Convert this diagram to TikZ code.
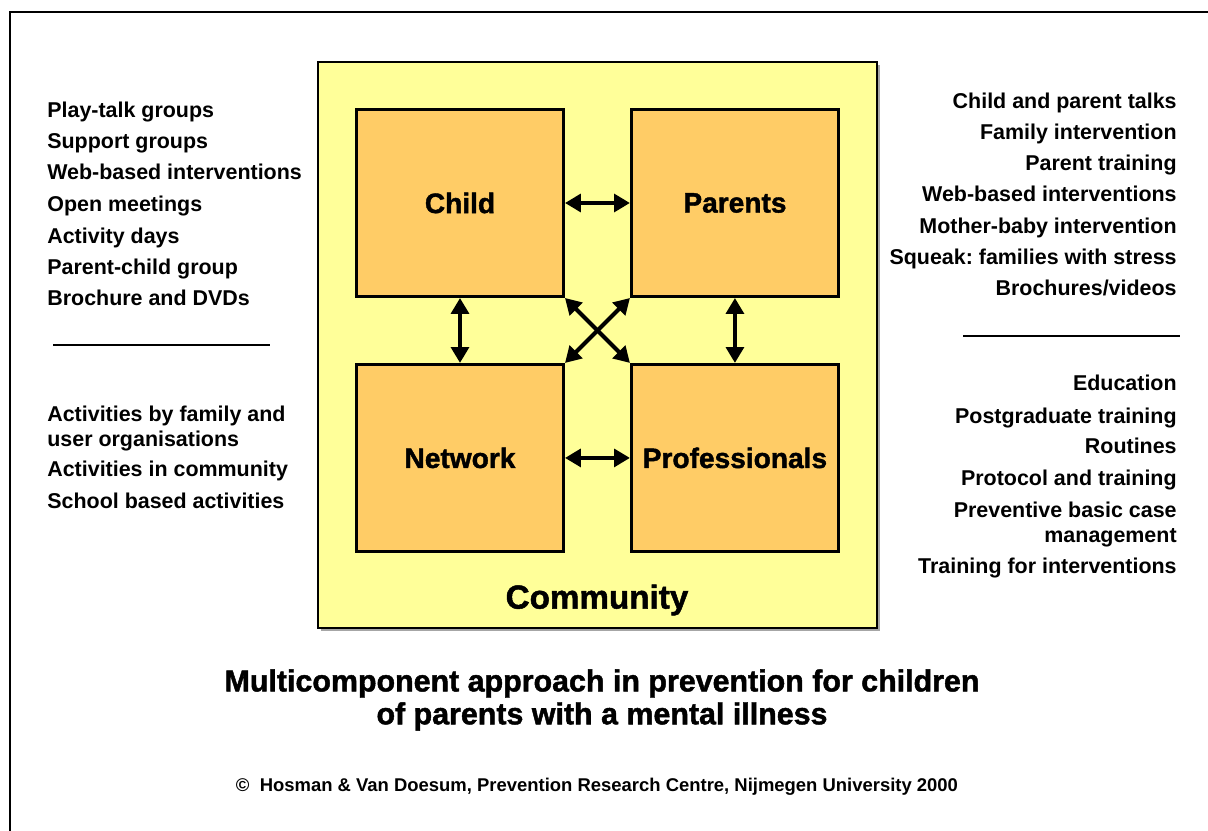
\documentclass[tikz,border=0pt]{standalone}
\usepackage{fontspec}
\setmainfont{Liberation Sans}
\newfontfamily\heavyfont{Liberation Sans}[BoldFeatures={FakeBold=1.5}]
\usepackage{tikz}
\usetikzlibrary{arrows.meta,positioning}
\definecolor{commyellow}{HTML}{FFFF99}
\definecolor{boxorange}{HTML}{FFCC66}
\frenchspacing

\tikzset{
  group/.style={draw=black, fill=boxorange, line width=1.7pt, minimum width=4.14cm,
    minimum height=3.74cm, inner sep=0pt, font=\heavyfont\bfseries\fontsize{16}{19}\selectfont},
  link/.style={line width=2.3pt, {Triangle[length=9pt,width=10pt]}-{Triangle[length=9pt,width=10pt]}},
  item/.style={font=\bfseries\fontsize{12.2}{14.2}\selectfont, inner sep=0pt},
  leftitem/.style={item, anchor=base west, align=left},
  rightitem/.style={item, anchor=base east, align=right},
}

\begin{document}
\begin{tikzpicture}[x=0.02cm, y=-0.02cm]
\useasboundingbox (0,0) rectangle (1208,831);

% frame
\draw[line width=1.7pt] (10,831) -- (10,12) -- (1208,12);

% community
\fill[gray!70] (321,65) rectangle (880,631);
\filldraw[fill=commyellow, draw=black, line width=1.1pt] (318,62) rectangle (877,628);
\node[font=\heavyfont\bfseries\fontsize{18.9}{22}\selectfont] (community) at (597,600) {Community};

% the four groups
\node[group] (child) at (460,203) {Child};
\node[group, right=1.3cm of child] (parents) {Parents};
\node[group, below=1.3cm of child] (network) {Network};
\node[group, below=1.3cm of parents] (professionals) {Professionals};

\draw[link] (child) -- (parents);
\draw[link] (child) -- (network);
\draw[link] (parents) -- (professionals);
\draw[link] (network) -- (professionals);
\draw[link] (child.south east) -- (professionals.north west);
\draw[link] (parents.south west) -- (network.north east);

% left side
\node[leftitem] (playtalk) at (47,118) {Play-talk groups};
\node[leftitem] (support) at (47,149) {Support groups};
\node[leftitem] (webleft) at (47,180) {Web-based interventions};
\node[leftitem] (meetings) at (47,212) {Open meetings};
\node[leftitem] (days) at (47,244) {Activity days};
\node[leftitem] (pcgroup) at (47,275) {Parent-child group};
\node[leftitem] (brochure) at (47,306) {Brochure and DVDs};
\draw[line width=1.7pt] (53,345) -- (270,345);
\node[leftitem] (family) at (47,446) {Activities by family and\\user organisations};
\node[leftitem] (incommunity) at (47,477) {Activities in community};
\node[leftitem] (school) at (47,508) {School based activities};

% right side
\node[rightitem] (talks) at (1177,109) {Child and parent talks};
\node[rightitem] (familyint) at (1177,140) {Family intervention};
\node[rightitem] (ptraining) at (1177,171) {Parent training};
\node[rightitem] (webright) at (1177,202) {Web-based interventions};
\node[rightitem] (motherbaby) at (1177,234) {Mother-baby intervention};
\node[rightitem] (squeak) at (1177,265) {Squeak: families with stress};
\node[rightitem] (videos) at (1177,296) {Brochures/videos};
\draw[line width=1.7pt] (963,336) -- (1180,336);
\node[rightitem] (education) at (1177,391) {Education};
\node[rightitem] (postgrad) at (1177,423) {Postgraduate training};
\node[rightitem] (routines) at (1177,454) {Routines};
\node[rightitem] (protocol) at (1177,485) {Protocol and training};
\node[rightitem] (casemgmt) at (1177,542) {Preventive basic case\\management};
\node[rightitem] (inttraining) at (1177,573) {Training for interventions};

% title and credit
\node[align=center, font=\heavyfont\bfseries\fontsize{17.3}{18.7}\selectfont] (title) at (602,700)
  {Multicomponent approach in prevention for children\\of parents with a mental illness};
\node[font=\bfseries\fontsize{10.5}{12.5}\selectfont] (credit) at (597,787)
  {\textcopyright\ \ Hosman \& Van Doesum, Prevention Research Centre, Nijmegen University 2000};
\end{tikzpicture}
\end{document}
